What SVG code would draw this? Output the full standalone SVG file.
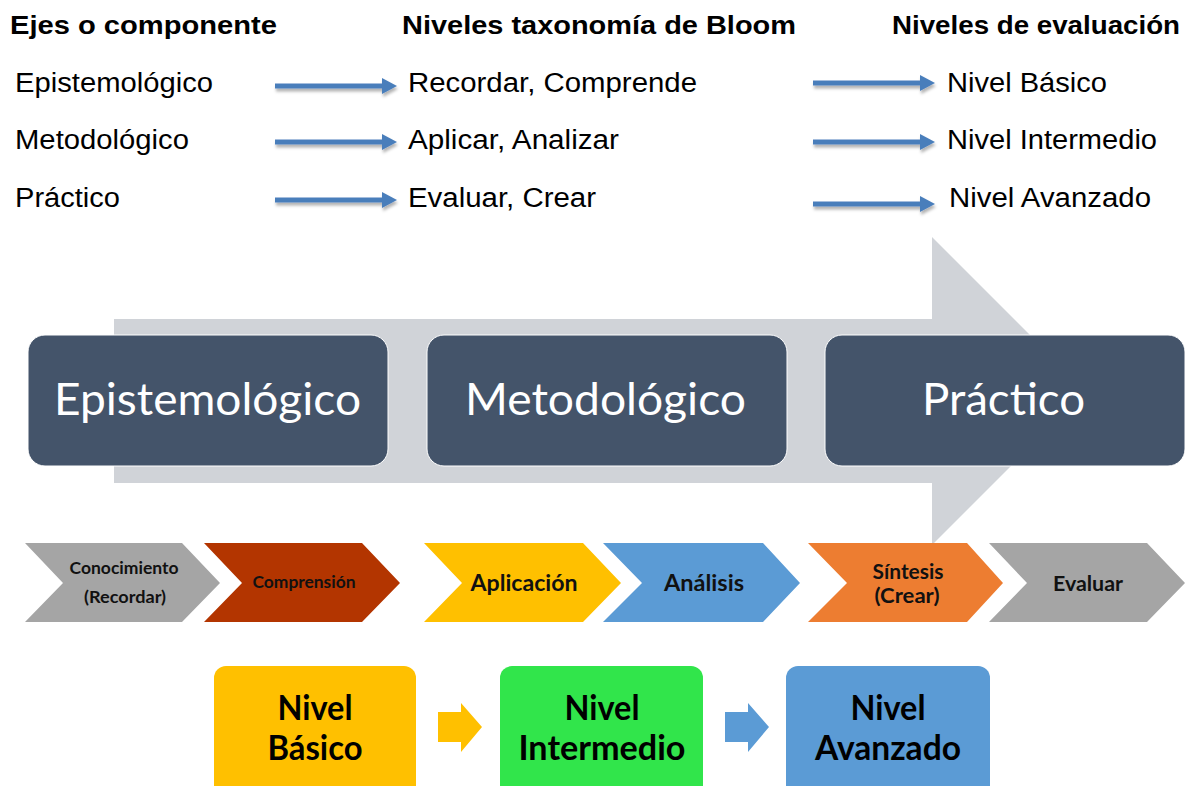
<svg xmlns="http://www.w3.org/2000/svg" xmlns:xlink="http://www.w3.org/1999/xlink" width="1201" height="786" viewBox="0 0 1201 786">
<style>
.hd{font-family:"Liberation Sans",Arial,sans-serif;font-weight:bold;font-size:26px;fill:#000}
.rw{font-family:"Liberation Sans",Arial,sans-serif;font-size:27px;fill:#000}
.bx{font-family:Lato,"Open Sans",sans-serif;font-size:44px;fill:#fff}
.cv{font-family:Lato,"Open Sans",sans-serif;font-weight:bold;fill:#111;text-anchor:middle}
.lv{font-family:Lato,"Open Sans",sans-serif;font-weight:bold;font-size:34px;fill:#000;text-anchor:middle}
.dark{fill:#44546A;stroke:#fff;stroke-width:1}
.arr{fill:#4A7EBB}
</style>
<defs>
<filter id="sh" x="-10%" y="-50%" width="120%" height="250%">
<feDropShadow dx="1" dy="3" stdDeviation="1.5" flood-color="#000" flood-opacity="0.3"/>
</filter>
<path id="ar" d="M0,-2.5 H107 V-8 L122,0 L107,8 V2.5 H0 Z"/>
</defs>
<rect width="1201" height="786" fill="#fff"/>

<g id="headers">
<text class="hd" x="10" y="34" textLength="267" lengthAdjust="spacingAndGlyphs">Ejes o componente</text>
<text class="hd" x="402" y="34" textLength="394" lengthAdjust="spacingAndGlyphs">Niveles taxonomía de Bloom</text>
<text class="hd" x="892" y="34" textLength="288" lengthAdjust="spacingAndGlyphs">Niveles de evaluación</text>
</g>

<g id="col-ejes">
<text class="rw" x="15" y="92" textLength="198" lengthAdjust="spacingAndGlyphs">Epistemológico</text>
<text class="rw" x="15" y="149" textLength="174" lengthAdjust="spacingAndGlyphs">Metodológico</text>
<text class="rw" x="15" y="207" textLength="105" lengthAdjust="spacingAndGlyphs">Práctico</text>
</g>
<g id="col-bloom">
<text class="rw" x="408" y="92" textLength="289" lengthAdjust="spacingAndGlyphs">Recordar, Comprende</text>
<text class="rw" x="408" y="149" textLength="211" lengthAdjust="spacingAndGlyphs">Aplicar, Analizar</text>
<text class="rw" x="408" y="207" textLength="188" lengthAdjust="spacingAndGlyphs">Evaluar, Crear</text>
</g>
<g id="col-eval">
<text class="rw" x="947" y="92" textLength="160" lengthAdjust="spacingAndGlyphs">Nivel Básico</text>
<text class="rw" x="947" y="149" textLength="210" lengthAdjust="spacingAndGlyphs">Nivel Intermedio</text>
<text class="rw" x="949" y="207" textLength="202" lengthAdjust="spacingAndGlyphs">Nivel Avanzado</text>
</g>

<g id="connectors">
<use xlink:href="#ar" href="#ar" class="arr" filter="url(#sh)" transform="translate(275,86)"/>
<use xlink:href="#ar" href="#ar" class="arr" filter="url(#sh)" transform="translate(275,142)"/>
<use xlink:href="#ar" href="#ar" class="arr" filter="url(#sh)" transform="translate(275,200)"/>
<use xlink:href="#ar" href="#ar" class="arr" filter="url(#sh)" transform="translate(813,83)"/>
<use xlink:href="#ar" href="#ar" class="arr" filter="url(#sh)" transform="translate(813,142)"/>
<use xlink:href="#ar" href="#ar" class="arr" filter="url(#sh)" transform="translate(813,204)"/>
<path d="M438,712 H461 V703 L482,727 L461,752 V742 H438 Z" fill="#FFC000"/>
<path d="M725,712 H748 V703 L769,727 L748,752 V742 H725 Z" fill="#5B9BD5"/>
</g>

<g id="big-arrow">
<path d="M114,319 H932 V237 L1086,391 L932,545 V483 H114 Z" fill="#D0D3D8"/>
</g>
<g id="box-epistemologico">
<rect class="dark" x="28" y="335" width="360" height="131" rx="17"/>
<text class="bx" x="54" y="415" textLength="307" lengthAdjust="spacingAndGlyphs">Epistemológico</text>
</g>
<g id="box-metodologico">
<rect class="dark" x="427" y="335" width="360" height="131" rx="17"/>
<text class="bx" x="465" y="415" textLength="281" lengthAdjust="spacingAndGlyphs">Metodológico</text>
</g>
<g id="box-practico">
<rect class="dark" x="825" y="335" width="360" height="131" rx="17"/>
<text class="bx" x="922" y="415" textLength="163" lengthAdjust="spacingAndGlyphs">Práctico</text>
</g>

<g id="chev-conocimiento">
<path d="M25,543 H182 L220,583 L182,622 H25 L63,583 Z" fill="#A5A5A5"/>
<text class="cv" x="124" y="574" font-size="17" textLength="109" lengthAdjust="spacingAndGlyphs">Conocimiento</text>
<text class="cv" x="125" y="603" font-size="17" textLength="82" lengthAdjust="spacingAndGlyphs">(Recordar)</text>
</g>
<g id="chev-comprension">
<path d="M204,543 H362 L400,583 L362,622 H204 L242,583 Z" fill="#B33500"/>
<text class="cv" x="304" y="588" font-size="17" textLength="103" lengthAdjust="spacingAndGlyphs">Comprensión</text>
</g>
<g id="chev-aplicacion">
<path d="M424,543 H583 L621,583 L583,622 H424 L462,583 Z" fill="#FFC000"/>
<text class="cv" x="524" y="591" font-size="22" textLength="107" lengthAdjust="spacingAndGlyphs">Aplicación</text>
</g>
<g id="chev-analisis">
<path d="M603,543 H763 L800,583 L763,622 H603 L642,583 Z" fill="#5B9BD5"/>
<text class="cv" x="704" y="591" font-size="22" textLength="80" lengthAdjust="spacingAndGlyphs">Análisis</text>
</g>
<g id="chev-sintesis">
<path d="M808,543 H967 L1003,583 L967,622 H808 L847,583 Z" fill="#ED7D31"/>
<text class="cv" x="908" y="579" font-size="21" textLength="71" lengthAdjust="spacingAndGlyphs">Síntesis</text>
<text class="cv" x="907" y="603" font-size="21" textLength="65" lengthAdjust="spacingAndGlyphs">(Crear)</text>
</g>
<g id="chev-evaluar">
<path d="M989,543 H1147 L1185,583 L1147,622 H989 L1027,583 Z" fill="#A5A5A5"/>
<text class="cv" x="1088" y="591" font-size="21" textLength="70" lengthAdjust="spacingAndGlyphs">Evaluar</text>
</g>

<g id="nivel-basico">
<rect x="214" y="666" width="202" height="135" rx="12" fill="#FFC000"/>
<text class="lv" x="315" y="720" textLength="75" lengthAdjust="spacingAndGlyphs">Nivel</text>
<text class="lv" x="315" y="760" textLength="95" lengthAdjust="spacingAndGlyphs">Básico</text>
</g>
<g id="nivel-intermedio">
<rect x="500" y="666" width="203" height="135" rx="12" fill="#31E54B"/>
<text class="lv" x="602" y="720" textLength="75" lengthAdjust="spacingAndGlyphs">Nivel</text>
<text class="lv" x="602" y="760" textLength="167" lengthAdjust="spacingAndGlyphs">Intermedio</text>
</g>
<g id="nivel-avanzado">
<rect x="786" y="666" width="204" height="135" rx="12" fill="#5B9BD5"/>
<text class="lv" x="888" y="720" textLength="75" lengthAdjust="spacingAndGlyphs">Nivel</text>
<text class="lv" x="888" y="760" textLength="146" lengthAdjust="spacingAndGlyphs">Avanzado</text>
</g>
</svg>
